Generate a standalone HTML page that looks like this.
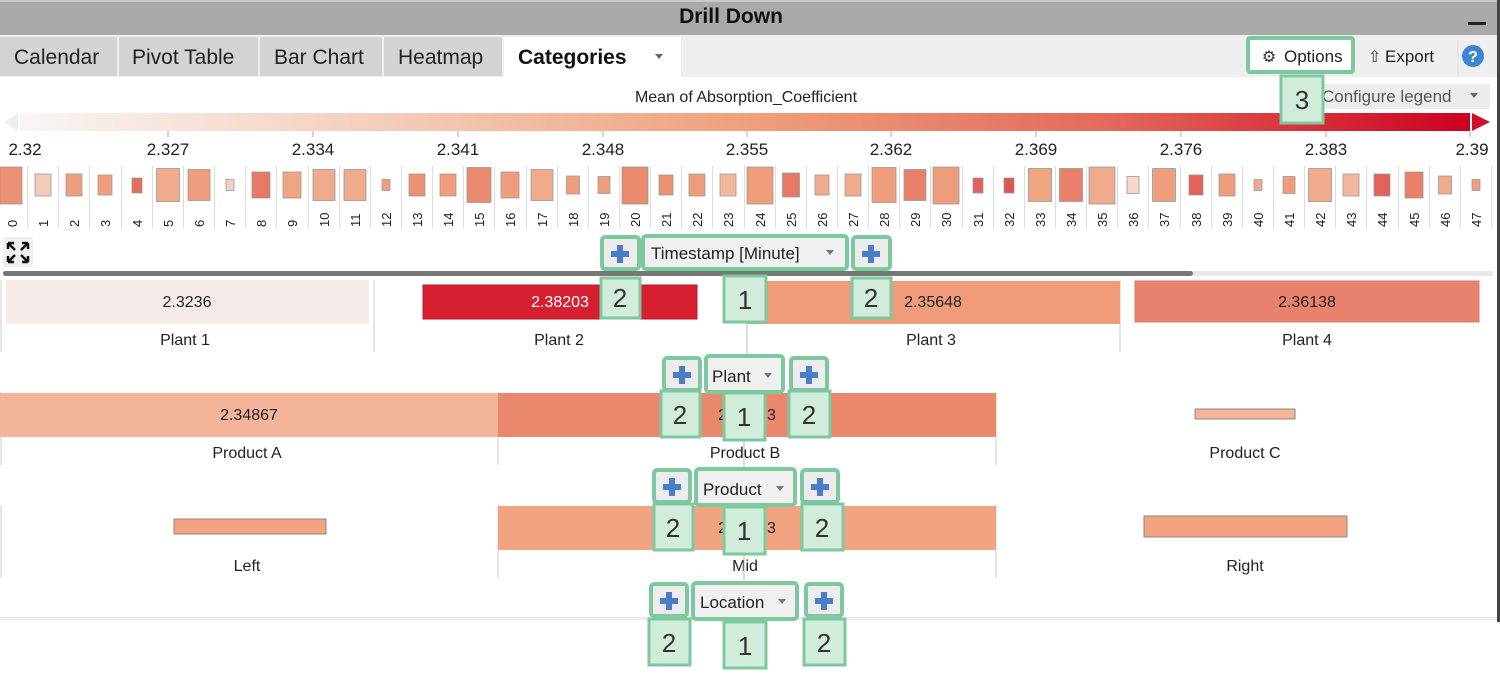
<!DOCTYPE html>
<html><head><meta charset="utf-8"><style>
html,body{margin:0;padding:0;background:#fff;width:1500px;height:690px;overflow:hidden}
svg{display:block;font-family:"Liberation Sans",sans-serif}
</style></head><body>
<svg width="1500" height="690" viewBox="0 0 1500 690" xmlns="http://www.w3.org/2000/svg">
<defs>
<linearGradient id="g" x1="0" x2="1" y1="0" y2="0">
<stop offset="0" stop-color="#f8f6f5"/><stop offset="0.25" stop-color="#f4cdbb"/><stop offset="0.5" stop-color="#f0a07c"/><stop offset="0.75" stop-color="#e36a5c"/><stop offset="1" stop-color="#cc0020"/>
</linearGradient>
</defs>
<!-- title bar -->
<rect x="0" y="0" width="1500" height="35" fill="#a9a9a9"/>
<rect x="0" y="0" width="1500" height="2" fill="#c8c8c8"/>
<text x="731" y="23" font-size="21" font-weight="bold" text-anchor="middle" fill="#111">Drill Down</text>
<rect x="1468" y="22" width="18" height="3" fill="#222"/>
<!-- tab bar -->
<rect x="0" y="35" width="1500" height="42" fill="#efefef"/>
<rect x="0" y="37" width="117" height="39" fill="#d3d3d3"/>
<rect x="119" y="37" width="139" height="39" fill="#d3d3d3"/>
<rect x="260" y="37" width="122" height="39" fill="#d3d3d3"/>
<rect x="384" y="37" width="118" height="39" fill="#d3d3d3"/>
<rect x="504" y="37" width="177" height="40" fill="#fff"/>
<g font-size="21" fill="#222">
<text x="14" y="64">Calendar</text>
<text x="132" y="64">Pivot Table</text>
<text x="274" y="64">Bar Chart</text>
<text x="398" y="64">Heatmap</text>
<text x="518" y="64" font-weight="bold" fill="#111">Categories</text>
</g>
<path d="M655 54 l8 0 -4 5z" fill="#666"/>
<rect x="1248" y="38" width="105" height="34" fill="#fff" stroke="#7ec8a0" stroke-width="4" rx="2"/>
<text x="1269" y="62" font-size="16" fill="#333" text-anchor="middle">⚙</text>
<text x="1284" y="62" font-size="17" fill="#222">Options</text>
<text x="1368" y="62" font-size="16" fill="#333">⇧</text>
<text x="1385" y="62" font-size="17" fill="#222">Export</text>
<line x1="1458" y1="40" x2="1458" y2="76" stroke="#ddd"/>
<circle cx="1473" cy="56" r="11" fill="#3f84d0"/>
<text x="1473" y="62" font-size="16" font-weight="bold" fill="#fff" text-anchor="middle">?</text>
<!-- legend -->
<text x="746" y="102" font-size="16" fill="#222" text-anchor="middle">Mean of Absorption_Coefficient</text>
<rect x="1322" y="84" width="168" height="25" fill="#ececec"/>
<text x="1322" y="102" font-size="17" fill="#555">Configure legend</text>
<path d="M1470 93 l8 0 -4 5z" fill="#666"/>
<rect x="20" y="113" width="1450" height="18" fill="url(#g)"/>
<path d="M4 122 L18 113 L18 131z" fill="#eeeeee"/>
<path d="M1472 113 L1490 122 L1472 131z" fill="#d0102a"/>
<g stroke="#f2b8a0" stroke-width="1.5">
<line x1="168" y1="131" x2="168" y2="137"/><line x1="313" y1="131" x2="313" y2="137"/><line x1="458" y1="131" x2="458" y2="137"/><line x1="603" y1="131" x2="603" y2="137"/><line x1="747" y1="131" x2="747" y2="137"/><line x1="891" y1="131" x2="891" y2="137"/><line x1="1036" y1="131" x2="1036" y2="137"/><line x1="1181" y1="131" x2="1181" y2="137"/><line x1="1326" y1="131" x2="1326" y2="137"/><line x1="1470" y1="131" x2="1470" y2="137"/>
</g>
<g font-size="17" fill="#222" text-anchor="middle">
<text x="25" y="155">2.32</text><text x="168" y="155">2.327</text><text x="313" y="155">2.334</text><text x="458" y="155">2.341</text><text x="603" y="155">2.348</text><text x="747" y="155">2.355</text><text x="891" y="155">2.362</text><text x="1036" y="155">2.369</text><text x="1181" y="155">2.376</text><text x="1326" y="155">2.383</text><text x="1472" y="155">2.39</text>
</g>
<!-- heatmap dividers -->
<path stroke="#dddddd" stroke-width="1" fill="none" d="M27.5 166V228M58.5 166V228M89.5 166V228M121.5 166V228M152.5 166V228M183.5 166V228M214.5 166V228M245.5 166V228M276.5 166V228M308.5 166V228M339.5 166V228M370.5 166V228M401.5 166V228M432.5 166V228M463.5 166V228M494.5 166V228M526.5 166V228M557.5 166V228M588.5 166V228M619.5 166V228M650.5 166V228M681.5 166V228M712.5 166V228M744.5 166V228M775.5 166V228M806.5 166V228M837.5 166V228M868.5 166V228M899.5 166V228M930.5 166V228M962.5 166V228M993.5 166V228M1024.5 166V228M1055.5 166V228M1086.5 166V228M1117.5 166V228M1148.5 166V228M1180.5 166V228M1211.5 166V228M1242.5 166V228M1273.5 166V228M1304.5 166V228M1335.5 166V228M1366.5 166V228M1398.5 166V228M1429.5 166V228M1460.5 166V228M1491.5 166V228"/>
<g stroke="#999" stroke-width="0.8">
<rect x="0" y="167" width="22" height="37" fill="#ec9274"/>
<rect x="35" y="174" width="16" height="22" fill="#f4cab8"/>
<rect x="66" y="174" width="16" height="22" fill="#ef9e7d"/>
<rect x="98" y="175" width="14" height="20" fill="#ef9e7d"/>
<rect x="132" y="178" width="10" height="15" fill="#e36e5e"/>
<rect x="156.5" y="168.5" width="23" height="33" fill="#f0aa8c"/>
<rect x="188" y="169.5" width="22" height="31" fill="#ef9e7d"/>
<rect x="226" y="179.5" width="8" height="11" fill="#f4cfc0"/>
<rect x="252" y="172" width="18" height="26" fill="#e67a64"/>
<rect x="283" y="172" width="18" height="26" fill="#f0a583"/>
<rect x="313" y="169.5" width="22" height="31" fill="#f0aa8c"/>
<rect x="344" y="169.5" width="22" height="31" fill="#f0aa8c"/>
<rect x="382" y="179.5" width="8" height="11" fill="#ef9e7d"/>
<rect x="409" y="174" width="16" height="22" fill="#ec9274"/>
<rect x="440" y="174" width="16" height="22" fill="#ef9e7d"/>
<rect x="467" y="167.5" width="24" height="35" fill="#ea8a6e"/>
<rect x="501" y="172" width="18" height="26" fill="#ef9e7d"/>
<rect x="531" y="169.5" width="22" height="31" fill="#f0aa8c"/>
<rect x="566.5" y="176" width="13" height="18" fill="#ef9e7d"/>
<rect x="598" y="176.5" width="12" height="17" fill="#ef9e7d"/>
<rect x="622" y="167" width="26" height="37" fill="#ea8a6e"/>
<rect x="659" y="175" width="14" height="20" fill="#ec9274"/>
<rect x="689" y="174" width="16" height="22" fill="#ef9e7d"/>
<rect x="720" y="174" width="16" height="22" fill="#f2b79d"/>
<rect x="747" y="167" width="26" height="37" fill="#ef9e7d"/>
<rect x="782.5" y="173" width="17" height="24" fill="#e67a64"/>
<rect x="815" y="175" width="14" height="20" fill="#f0aa8c"/>
<rect x="845" y="174" width="16" height="22" fill="#f0aa8c"/>
<rect x="872" y="167.5" width="24" height="35" fill="#ef9e7d"/>
<rect x="904" y="169.5" width="22" height="31" fill="#e9806a"/>
<rect x="933" y="167" width="26" height="37" fill="#ef9e7d"/>
<rect x="973" y="178" width="10" height="15" fill="#e0625a"/>
<rect x="1004" y="178" width="10" height="15" fill="#dd5555"/>
<rect x="1028.5" y="168.5" width="23" height="33" fill="#f0a583"/>
<rect x="1059.5" y="168.5" width="23" height="33" fill="#e9806a"/>
<rect x="1089" y="167" width="26" height="37" fill="#f0aa8c"/>
<rect x="1127" y="176.5" width="12" height="17" fill="#f6d8cb"/>
<rect x="1152.5" y="168.5" width="23" height="33" fill="#ef9e7d"/>
<rect x="1189" y="175" width="14" height="20" fill="#e0625a"/>
<rect x="1219" y="174" width="16" height="22" fill="#ef9e7d"/>
<rect x="1254" y="179.5" width="8" height="11" fill="#f0aa8c"/>
<rect x="1283" y="176.5" width="12" height="17" fill="#ef9e7d"/>
<rect x="1308.5" y="168.5" width="23" height="33" fill="#f0aa8c"/>
<rect x="1343" y="174" width="16" height="22" fill="#f2b79d"/>
<rect x="1374" y="174" width="16" height="22" fill="#e0625a"/>
<rect x="1405" y="172" width="18" height="26" fill="#e9806a"/>
<rect x="1438.5" y="176" width="13" height="18" fill="#f0aa8c"/>
<rect x="1472" y="179.5" width="8" height="11" fill="#ef9e7d"/>
</g>
<g font-size="13" fill="#222">
<text transform="translate(17,227) rotate(-90)">0</text><text transform="translate(48,227) rotate(-90)">1</text><text transform="translate(79,227) rotate(-90)">2</text><text transform="translate(110,227) rotate(-90)">3</text><text transform="translate(142,227) rotate(-90)">4</text><text transform="translate(173,227) rotate(-90)">5</text><text transform="translate(204,227) rotate(-90)">6</text><text transform="translate(235,227) rotate(-90)">7</text><text transform="translate(266,227) rotate(-90)">8</text><text transform="translate(297,227) rotate(-90)">9</text><text transform="translate(329,227) rotate(-90)">10</text><text transform="translate(360,227) rotate(-90)">11</text><text transform="translate(391,227) rotate(-90)">12</text><text transform="translate(422,227) rotate(-90)">13</text><text transform="translate(453,227) rotate(-90)">14</text><text transform="translate(484,227) rotate(-90)">15</text><text transform="translate(515,227) rotate(-90)">16</text><text transform="translate(547,227) rotate(-90)">17</text><text transform="translate(578,227) rotate(-90)">18</text><text transform="translate(609,227) rotate(-90)">19</text><text transform="translate(640,227) rotate(-90)">20</text><text transform="translate(671,227) rotate(-90)">21</text><text transform="translate(702,227) rotate(-90)">22</text><text transform="translate(733,227) rotate(-90)">23</text><text transform="translate(765,227) rotate(-90)">24</text><text transform="translate(796,227) rotate(-90)">25</text><text transform="translate(827,227) rotate(-90)">26</text><text transform="translate(858,227) rotate(-90)">27</text><text transform="translate(889,227) rotate(-90)">28</text><text transform="translate(920,227) rotate(-90)">29</text><text transform="translate(951,227) rotate(-90)">30</text><text transform="translate(983,227) rotate(-90)">31</text><text transform="translate(1014,227) rotate(-90)">32</text><text transform="translate(1045,227) rotate(-90)">33</text><text transform="translate(1076,227) rotate(-90)">34</text><text transform="translate(1107,227) rotate(-90)">35</text><text transform="translate(1138,227) rotate(-90)">36</text><text transform="translate(1169,227) rotate(-90)">37</text><text transform="translate(1201,227) rotate(-90)">38</text><text transform="translate(1232,227) rotate(-90)">39</text><text transform="translate(1263,227) rotate(-90)">40</text><text transform="translate(1294,227) rotate(-90)">41</text><text transform="translate(1325,227) rotate(-90)">42</text><text transform="translate(1356,227) rotate(-90)">43</text><text transform="translate(1387,227) rotate(-90)">44</text><text transform="translate(1419,227) rotate(-90)">45</text><text transform="translate(1450,227) rotate(-90)">46</text><text transform="translate(1481,227) rotate(-90)">47</text>
</g>
<!-- expand icon -->
<rect x="3" y="237" width="30" height="30" fill="#f0f0f0"/>
<g stroke="#111" stroke-width="2.5" fill="none">
<path d="M8 243l7 7M8 243h6M8 243v6"/><path d="M28 243l-7 7M28 243h-6M28 243v6"/><path d="M8 262l7-7M8 262h6M8 262v-6"/><path d="M28 262l-7-7M28 262h-6M28 262v-6"/>
</g>
<!-- scrollbar -->
<rect x="3" y="271" width="1490" height="5" fill="#e8e8e8"/>
<rect x="3" y="271" width="1190" height="5" rx="2.5" fill="#777"/>
<!-- right border -->
<rect x="1497" y="0" width="3" height="622" fill="#444"/>
<!-- Plant row -->
<g stroke="#ccc"><line x1="1" y1="280" x2="1" y2="352"/><line x1="374" y1="280" x2="374" y2="352"/><line x1="747" y1="280" x2="747" y2="352"/><line x1="1120" y1="280" x2="1120" y2="352"/></g>
<rect x="6" y="280" width="363" height="44" fill="#f5ece9"/>
<rect x="423" y="285" width="274" height="34" fill="#d42030" stroke="#b81828"/>
<rect x="748" y="281" width="372" height="43" fill="#f09c7a"/>
<rect x="1135" y="281" width="344" height="41" fill="#e9826c" stroke="#dd7a66"/>
<g font-size="16" text-anchor="middle" fill="#222">
<text x="187" y="307">2.3236</text><text x="560" y="307" fill="#fff">2.38203</text><text x="933" y="307">2.35648</text><text x="1307" y="307">2.36138</text>
<text x="185" y="345">Plant 1</text><text x="559" y="345">Plant 2</text><text x="931" y="345">Plant 3</text><text x="1307" y="345">Plant 4</text>
</g>
<!-- Product row -->
<g stroke="#ccc"><line x1="1" y1="392" x2="1" y2="465"/><line x1="498" y1="392" x2="498" y2="465"/><line x1="996" y1="392" x2="996" y2="465"/></g>
<rect x="0" y="393" width="498" height="44" fill="#f3b49a"/>
<rect x="498" y="393" width="498" height="44" fill="#ea886e"/>
<rect x="1195" y="409" width="100" height="10" fill="#f3b49a" stroke="#888"/>
<g font-size="16" text-anchor="middle" fill="#222">
<text x="249" y="420">2.34867</text><text x="747" y="420">2.36323</text>
<text x="247" y="458">Product A</text><text x="745" y="458">Product B</text><text x="1245" y="458">Product C</text>
</g>
<!-- Location row -->
<g stroke="#ccc"><line x1="1" y1="505" x2="1" y2="578"/><line x1="498" y1="505" x2="498" y2="578"/><line x1="996" y1="505" x2="996" y2="578"/></g>
<rect x="174" y="519" width="152" height="15" fill="#f2a482" stroke="#888"/>
<rect x="498" y="506" width="498" height="44" fill="#f2a482"/>
<rect x="1144" y="516" width="203" height="21" fill="#f2a482" stroke="#888"/>
<g font-size="16" text-anchor="middle" fill="#222">
<text x="747" y="533">2.35963</text>
<text x="247" y="571">Left</text><text x="745" y="571">Mid</text><text x="1245" y="571">Right</text>
</g>
<rect x="0" y="617" width="1497" height="3" fill="#eeeeee"/>
<!-- connectors -->
<g stroke="#bbb"><line x1="747" y1="320" x2="747" y2="356"/><line x1="744" y1="437" x2="744" y2="470"/><line x1="744" y1="550" x2="744" y2="584"/></g>
<!-- annotation: dropdown boxes -->
<g stroke="#7ec8a0" stroke-width="4">
<rect x="643" y="236" width="204" height="33" rx="3" fill="#f0f0f0"/>
<rect x="706" y="356" width="77" height="36" rx="3" fill="#f0f0f0"/>
<rect x="696" y="469" width="99" height="36" rx="3" fill="#f0f0f0"/>
<rect x="693" y="583" width="104" height="36" rx="3" fill="#f0f0f0"/>
<rect x="602" y="237" width="37" height="32" rx="3" fill="#ececec"/>
<rect x="853" y="237" width="37" height="32" rx="3" fill="#ececec"/>
<rect x="664" y="358" width="36" height="32" rx="3" fill="#ececec"/>
<rect x="791" y="358" width="36" height="32" rx="3" fill="#ececec"/>
<rect x="654" y="470" width="36" height="32" rx="3" fill="#ececec"/>
<rect x="802" y="470" width="36" height="32" rx="3" fill="#ececec"/>
<rect x="651" y="584" width="36" height="32" rx="3" fill="#ececec"/>
<rect x="806" y="584" width="36" height="32" rx="3" fill="#ececec"/>
</g>
<g font-size="17" fill="#222">
<text x="651" y="259">Timestamp [Minute]</text><path d="M826 250 l8 0 -4 5z" fill="#777"/>
<text x="712" y="382">Plant</text><path d="M764 373 l8 0 -4 5z" fill="#777"/>
<text x="703" y="495">Product</text><path d="M776 486 l8 0 -4 5z" fill="#777"/>
<text x="700" y="608">Location</text><path d="M778 599 l8 0 -4 5z" fill="#777"/>
</g>
<!-- plus icons -->
<g fill="#4a7cc8">
<path d="M617 245h6v6h6v6h-6v6h-6v-6h-6v-6h6z"/>
<path d="M868 245h6v6h6v6h-6v6h-6v-6h-6v-6h6z"/>
<path d="M679 366h6v6h6v6h-6v6h-6v-6h-6v-6h6z"/>
<path d="M806 366h6v6h6v6h-6v6h-6v-6h-6v-6h6z"/>
<path d="M669 478h6v6h6v6h-6v6h-6v-6h-6v-6h6z"/>
<path d="M817 478h6v6h6v6h-6v6h-6v-6h-6v-6h6z"/>
<path d="M666 592h6v6h6v6h-6v6h-6v-6h-6v-6h6z"/>
<path d="M821 592h6v6h6v6h-6v6h-6v-6h-6v-6h6z"/>
</g>
<!-- numbered boxes -->
<g stroke="#7ec8a0" stroke-width="3" fill="#d2ecdc">
<rect x="601" y="278" width="39" height="40"/>
<rect x="852" y="278" width="39" height="40"/>
<rect x="724" y="276" width="42" height="46"/>
<rect x="661" y="391" width="39" height="46"/>
<rect x="789" y="391" width="41" height="46"/>
<rect x="724" y="393" width="41" height="47"/>
<rect x="654" y="504" width="39" height="46"/>
<rect x="802" y="504" width="41" height="46"/>
<rect x="724" y="507" width="41" height="47"/>
<rect x="649" y="619" width="41" height="46"/>
<rect x="804" y="619" width="41" height="46"/>
<rect x="724" y="622" width="42" height="46"/>
<rect x="1281" y="76" width="42" height="47"/>
</g>
<g font-size="26" fill="#333" text-anchor="middle">
<text x="620" y="307">2</text><text x="871" y="307">2</text><text x="745" y="309">1</text>
<text x="680" y="424">2</text><text x="809" y="424">2</text><text x="744" y="426">1</text>
<text x="673" y="537">2</text><text x="822" y="537">2</text><text x="744" y="540">1</text>
<text x="669" y="652">2</text><text x="824" y="652">2</text><text x="745" y="655">1</text>
<text x="1302" y="109">3</text>
</g>
</svg>
</body></html>
